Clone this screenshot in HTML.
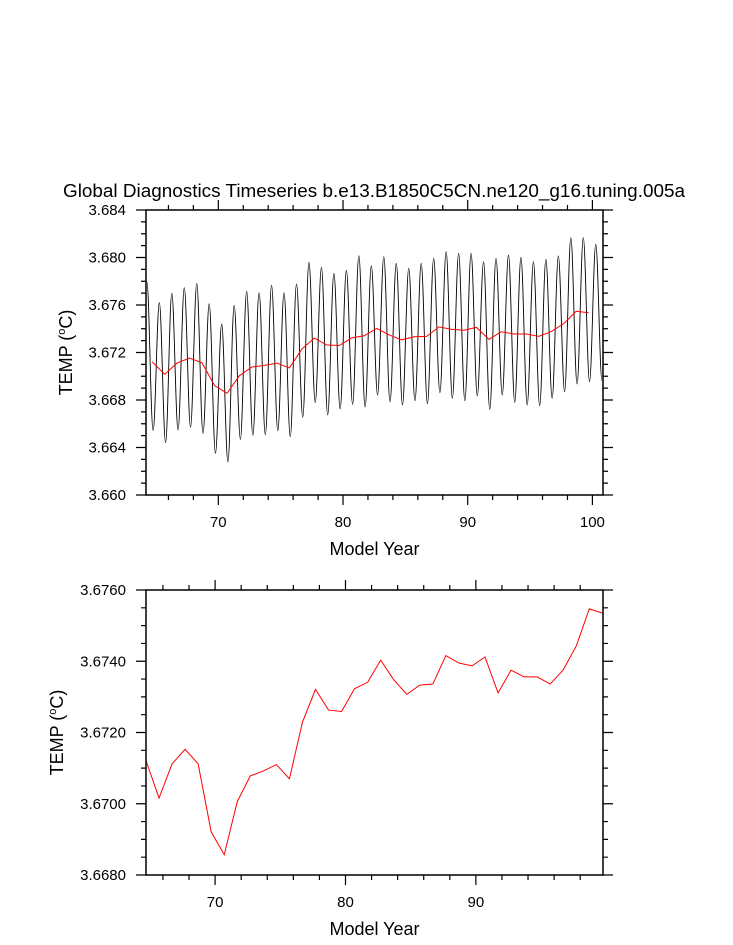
<!DOCTYPE html>
<html><head><meta charset="utf-8"><style>
html,body{margin:0;padding:0;background:#fff;}
svg{display:block;font-family:"Liberation Sans",sans-serif;}
</style></head><body>
<svg id="chart" width="733" height="945" viewBox="0 0 733 945">
<defs>
<clipPath id="clipTop"><rect x="146" y="210" width="457" height="285"/></clipPath>
<clipPath id="clipBot"><rect x="146" y="590" width="457" height="285"/></clipPath>
</defs>
<text x="374" y="197" font-size="18" text-anchor="middle" textLength="622" lengthAdjust="spacingAndGlyphs">Global Diagnostics Timeseries b.e13.B1850C5CN.ne120_g16.tuning.005a</text>
<g id="top"></g>
<g id="bot"></g>
</svg>
<script>
const peakVals=[3.67797,3.67620,3.67698,3.67746,3.67782,3.67611,3.67440,3.67597,3.67715,3.67704,3.67766,3.67704,3.67777,3.67959,3.67917,3.67867,3.67892,3.68015,3.67931,3.68007,3.67951,3.67909,3.67951,3.67993,3.68049,3.68035,3.68035,3.67965,3.67993,3.68021,3.68001,3.67965,3.67985,3.68013,3.68167,3.68167,3.68111];
const troughVals=[3.66542,3.66441,3.66547,3.66570,3.66519,3.66351,3.66278,3.66469,3.66503,3.66508,3.66542,3.66491,3.66654,3.66778,3.66674,3.66724,3.66764,3.66741,3.66842,3.66783,3.66758,3.66794,3.66769,3.66862,3.66814,3.66794,3.66834,3.66721,3.66842,3.66780,3.66758,3.66752,3.66814,3.66870,3.66935,3.66954,3.66963];
const firstPeakYear=64.27;
const annualVals=[3.67121,3.67016,3.67112,3.67153,3.67112,3.66921,3.66857,3.67006,3.67078,3.67092,3.67110,3.67070,3.67229,3.67321,3.67263,3.67259,3.67323,3.67341,3.67403,3.67348,3.67307,3.67333,3.67336,3.67416,3.67395,3.67387,3.67412,3.67311,3.67375,3.67356,3.67356,3.67336,3.67376,3.67443,3.67547,3.67535];
const firstAnnualYear=64.7;
const topYTicks=["3.660","3.664","3.668","3.672","3.676","3.680","3.684"];
const botYTicks=["3.6680","3.6700","3.6720","3.6740","3.6760"];
const xTickLabels=["70","80","90","100"];

const NS="http://www.w3.org/2000/svg";
function mk(tag,attrs,parent){const e=document.createElementNS(NS,tag);for(const k in attrs)e.setAttribute(k,attrs[k]);parent.appendChild(e);return e;}

function panel(g,cfg){
  const {x0,x1,y0,y1,xmin,xmax,ymin,ymax}=cfg;
  const sx=v=>x0+(v-xmin)/(xmax-xmin)*(x1-x0);
  const sy=v=>y1-(v-ymin)/(ymax-ymin)*(y1-y0);
  // ticks
  let d="";
  for(let yr=Math.ceil(xmin/2)*2;yr<=xmax;yr+=2){
    const X=sx(yr), major=yr%10===0, L=major?10:5;
    d+=`M${X},${y1}v${L}M${X},${y0}v${-L}`;
  }
  const nMinor=Math.round((ymax-ymin)/cfg.yminor);
  for(let i=0;i<=nMinor;i++){
    const v=ymin+i*cfg.yminor, Y=sy(v), major=(i%cfg.majEvery)===0, L=major?10:5;
    d+=`M${x0},${Y}h${-L}M${x1},${Y}h${L}`;
  }
  const t=mk('path',{d:d,stroke:'#000','stroke-width':1.2,fill:'none'},g);
  
  
  // y labels
  cfg.yLabels.forEach((lab,i)=>{
    const tx=mk('text',{x:x0-20,y:sy(parseFloat(lab))+5,'font-size':15,'text-anchor':'end'},g);
    tx.textContent=lab;
    
    
  });
  xTickLabels.forEach(lab=>{
    const v=parseFloat(lab); if(v<xmin||v>xmax)return;
    const tx=mk('text',{x:sx(v),y:y1+32,'font-size':15,'text-anchor':'middle'},g);
    tx.textContent=lab;
    
    
  });
  const xt=mk('text',{x:(x0+x1)/2,y:y1+60,'font-size':18,'text-anchor':'middle'},g);
  xt.textContent='Model Year';
  
  
  const yt=mk('text',{x:0,y:0,'font-size':18,'text-anchor':'middle',transform:`translate(${cfg.ytx},${(y0+y1)/2}) rotate(-90)`},g);
  
  
  yt.appendChild(document.createTextNode('TEMP ('));
  const sup=mk('tspan',{'font-size':11,dy:-7},yt); sup.textContent='o';
  const c=mk('tspan',{dy:7},yt); c.textContent='C)';
  return {sx,sy};
}

function drawAnnual(g,sx,sy,clip){
  const pts=annualVals.map((v,i)=>`${sx(firstAnnualYear+i).toFixed(2)},${sy(v).toFixed(2)}`).join(' ');
  const p=mk('polyline',{points:pts,fill:'none',stroke:'#ff0000','stroke-width':1,'clip-path':clip},g);
  
  
}

// top panel
const gt=document.getElementById('top');
const T=panel(gt,{x0:146,x1:603,y0:210,y1:495,xmin:64.2,xmax:100.85,ymin:3.660,ymax:3.684,yminor:0.001,majEvery:4,yLabels:topYTicks,ytx:72});
// monthly line through extrema
const ext=[];
for(let i=0;i<peakVals.length;i++){
  ext.push([firstPeakYear+i,peakVals[i]]);
  if(i<troughVals.length) ext.push([firstPeakYear+i+0.5,troughVals[i]]);
}
let md=`M${T.sx(ext[0][0])},${T.sy(ext[0][1])}`;
for(let i=1;i<ext.length;i++){
  const xa=T.sx(ext[i-1][0]), ya=T.sy(ext[i-1][1]), xb=T.sx(ext[i][0]), yb=T.sy(ext[i][1]);
  const dx=(xb-xa)*0.36;
  md+=`C${(xa+dx).toFixed(2)},${ya.toFixed(2)} ${(xb-dx).toFixed(2)},${yb.toFixed(2)} ${xb.toFixed(2)},${yb.toFixed(2)}`;
}
const ml=mk('path',{d:md,fill:'none',stroke:'#000','stroke-width':0.9,'clip-path':'url(#clipTop)'},gt);


drawAnnual(gt,T.sx,T.sy,'url(#clipTop)');
const bt=mk('rect',{x:146,y:210,width:457,height:285,fill:'none',stroke:'#000','stroke-width':1.5},gt);



// bottom panel
const gb=document.getElementById('bot');
const B=panel(gb,{x0:146,x1:603,y0:590,y1:875,xmin:64.7,xmax:99.75,ymin:3.668,ymax:3.676,yminor:0.0005,majEvery:4,yLabels:botYTicks,ytx:63});
drawAnnual(gb,B.sx,B.sy,'url(#clipBot)');
const bb=mk('rect',{x:146,y:590,width:457,height:285,fill:'none',stroke:'#000','stroke-width':1.5},gb);


</script>
</body></html>
